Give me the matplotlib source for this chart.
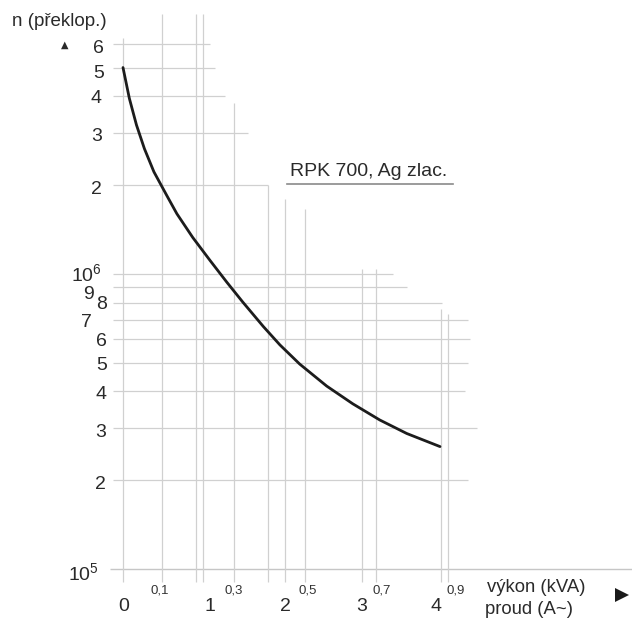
import matplotlib
matplotlib.use("Agg")
import matplotlib.pyplot as plt
from matplotlib.ticker import NullLocator
from matplotlib.transforms import ScaledTranslation
from matplotlib.lines import Line2D

plt.rcParams['font.family'] = ['Liberation Sans', 'DejaVu Sans']
plt.rcParams['mathtext.fontset'] = 'custom'
plt.rcParams['mathtext.rm'] = 'Liberation Sans'
plt.rcParams['mathtext.it'] = 'Liberation Sans'

# ---- data ----
current_a = [0.0, 0.08, 0.17, 0.27, 0.39, 0.555, 0.68, 0.88, 1.10, 1.31, 1.51,
             1.77, 1.98, 2.23, 2.57, 2.90, 3.24, 3.58, 4.00]
cycles_n = [5.01e6, 3.94e6, 3.20e6, 2.66e6, 2.22e6, 1.84e6, 1.60e6, 1.33e6,
            1.11e6, 9.38e5, 8.04e5, 6.64e5, 5.75e5, 4.95e5, 4.17e5, 3.63e5,
            3.20e5, 2.88e5, 2.60e5]

y_ticks = [6e6, 5e6, 4e6, 3e6, 2e6, 1e6, 9e5, 8e5, 7e5, 6e5, 5e5, 4e5, 3e5, 2e5, 1e5]
y_labels = ['6', '5', '4', '3', '2', r'$\mathregular{10^6}$', '9', '8', '7', '6',
            '5', '4', '3', '2', r'$\mathregular{10^5}$']

a_ticks = [0, 1, 2, 3, 4]
a_labels = ['0', '1', '2', '3', '4']

kva_ticks = [0.1, 0.3, 0.5, 0.7, 0.9]
kva_labels = ['0,1', '0,3', '0,5', '0,7', '0,9']
KVA_PER_A = 0.2146

# partial grid of the drawing (end of each horizontal line, in A)
h_grid_end = [1.10, 1.16, 1.29, 1.58, 1.83, 3.41, 3.58, 4.03, 4.35, 4.38, 4.35,
              4.32, 4.47, 4.35, None]
v_grid_x = [0.0, 0.49, 0.92, 1.01, 1.40, 1.83, 2.04, 2.30, 3.02, 3.19, 4.01, 4.10]
v_grid_top = [6.3e6, 7.6e6, 7.6e6, 7.6e6, 3.8e6, 2.0e6, 1.8e6, 1.66e6,
              1.04e6, 1.04e6, 7.6e5, 7.3e5]

# ---- figure ----
W, H = 632, 620
fig = plt.figure(figsize=(W / 100, H / 100), dpi=100)
L, R, T, B = 110, 632, 10, 569
ax = fig.add_axes([L / W, (H - B) / H, (R - L) / W, (B - T) / H])
ax.set_yscale('log')
PXA = 79.25
ax.set_xlim((L - 123) / PXA, (R - 123) / PXA)
ax.set_ylim(1e5, 10 ** ((B - T) / 295 + 5))
for s in ax.spines.values():
    s.set_visible(False)

grid_c = '#d0d0d0'
xmin, xmax = ax.get_xlim()
for y, xe in zip(y_ticks, h_grid_end):
    if xe is None:
        ax.hlines(y, -0.17, xmax, color='#c6c6c6', lw=1.0, clip_on=False)
    else:
        ax.hlines(y, -0.12, xe, color=grid_c, lw=0.9)
for x, yt in zip(v_grid_x, v_grid_top):
    ax.vlines(x, 9.0e4, yt, color=grid_c, lw=0.9, clip_on=False)

ax.plot(current_a, cycles_n, color='#1c1c1c', lw=2.0,
        solid_capstyle='round', solid_joinstyle='round')

# y ticks
ax.set_yticks(y_ticks, y_labels)
ax.yaxis.set_minor_locator(NullLocator())
ax.tick_params(axis='y', length=0, pad=2, labelsize=14, labelcolor='#2a2a2a')
y_dx = [-3, -3, -6, -5, -5, -5, -13, 0, -15, 0, 0, -1, -1, -1, -8]
y_dy = [-2, -4, 0, -1, -2, 2, -5, 0, -1, 0, -1, -1, -2, -2, -2]
for lbl, dx, dy in zip(ax.get_yticklabels(), y_dx, y_dy):
    lbl.set_transform(lbl.get_transform() +
                      ScaledTranslation(dx / 100, dy / 100, fig.dpi_scale_trans))

# x ticks (current, A)
ax.set_xticks(a_ticks, a_labels)
ax.xaxis.set_minor_locator(NullLocator())
ax.tick_params(axis='x', length=0, pad=21, labelsize=14, labelcolor='#2a2a2a')
x_dx = [1, 8, 4, 1, -4]
for lbl, dx in zip(ax.get_xticklabels(), x_dx):
    lbl.set_transform(lbl.get_transform() +
                      ScaledTranslation(dx / 100, 0, fig.dpi_scale_trans))

# secondary x ticks (power, kVA)
sec = ax.secondary_xaxis('bottom', functions=(lambda a: a * KVA_PER_A,
                                              lambda k: k / KVA_PER_A))
sec.set_xticks(kva_ticks, kva_labels)
sec.tick_params(length=0, pad=11, labelsize=9.5, labelcolor='#333333')
for s in sec.spines.values():
    s.set_visible(False)


def fx(px):
    return px / W


def fy(py):
    return 1 - py / H


tc = '#2a2a2a'
fig.text(fx(12), fy(22), 'n (překlop.)', ha='left', va='center', fontsize=13.5, color=tc)
fig.text(fx(65), fy(45), '▲', ha='center', va='center', fontsize=7, color=tc,
         family='DejaVu Sans')
fig.text(fx(290), fy(172), 'RPK 700, Ag zlac.', ha='left', va='center', fontsize=14, color=tc)
fig.add_artist(Line2D([fx(287), fx(453)], [fy(184), fy(184)], color='#8a8a8a', lw=1.2))
fig.text(fx(487), fy(587), 'výkon (kVA)', ha='left', va='center', fontsize=13.3, color=tc)
fig.text(fx(485), fy(610), 'proud (A~)', ha='left', va='center', fontsize=13.3, color=tc)
fig.add_artist(Line2D([fx(622)], [fy(595)], marker='>', markersize=10, color='#1a1a1a',
                      markeredgewidth=0, linestyle='none'))

fig.savefig('out.png', dpi=100)
